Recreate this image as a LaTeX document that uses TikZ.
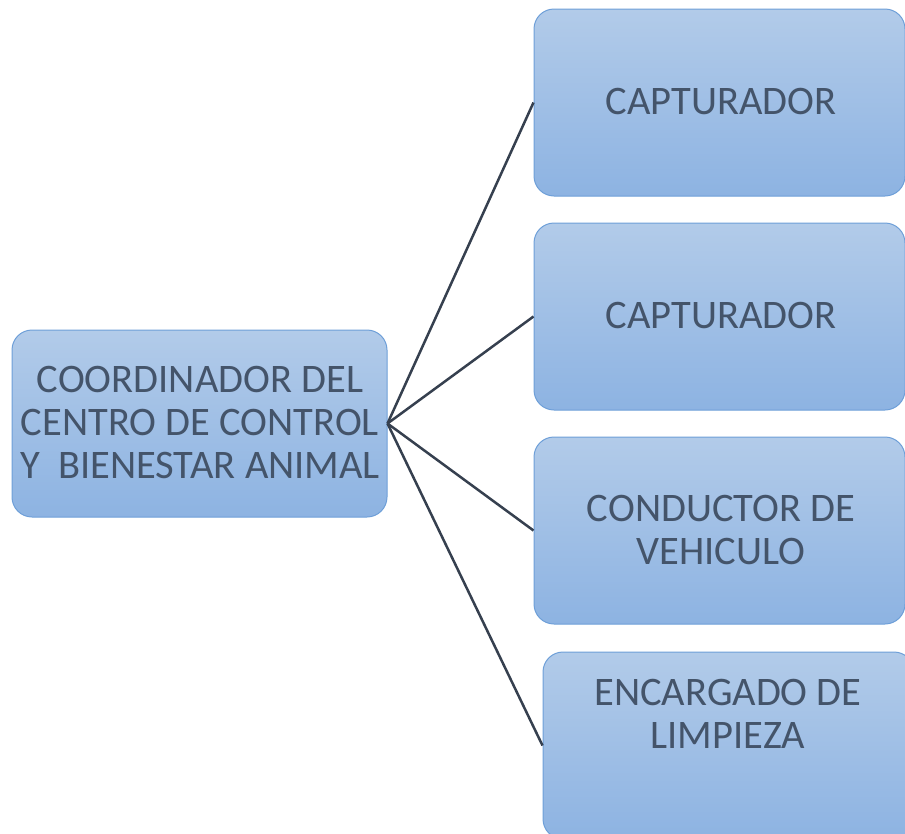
\documentclass[tikz,border=0pt]{standalone}
\usepackage{fontspec}
\setmainfont{Carlito}
\definecolor{txt}{HTML}{44546A}
\definecolor{topc}{HTML}{B2CBE9}
\definecolor{botc}{HTML}{8DB3E2}
\definecolor{edge}{HTML}{6E9FD8}
\definecolor{linec}{HTML}{36404F}
\tikzset{
  box/.style={draw=edge, line width=1pt, rounded corners=20pt, top color=topc, bottom color=botc, inner sep=0pt},
  lbl/.style={text=txt, font=\fontsize{40.5}{43}\selectfont, align=center},
  conn/.style={draw=linec, line width=2.5pt}
}
\begin{document}
\begin{tikzpicture}[x=1pt,y=-1pt]
\useasboundingbox (0,0) rectangle (905,833);
\clip (0,0) rectangle (905,833);
\node[box, minimum width=375pt, minimum height=187pt] (c) at (199.5,423.5) {};
\node[box, minimum width=371pt, minimum height=187pt] (b1) at (719.5,102.5) {};
\node[box, minimum width=371pt, minimum height=187pt] (b2) at (719.5,316.5) {};
\node[box, minimum width=371pt, minimum height=187pt] (b3) at (719.5,530.5) {};
\node[box, minimum width=371pt, minimum height=187pt] (b4) at (728.5,745.5) {};
\node[lbl] (tc) at (200,422) {COORDINADOR DEL\\CENTRO DE CONTROL\\Y\ \ BIENESTAR ANIMAL};
\node[lbl] (t1) at (721,102) {CAPTURADOR};
\node[lbl] (t2) at (721,316) {CAPTURADOR};
\node[lbl] (t3) at (721,530) {CONDUCTOR DE\\VEHICULO};
\node[lbl] (t4) at (728,714) {ENCARGADO DE\\LIMPIEZA};
\draw[conn] (c.east) -- (b1.west);
\draw[conn] (c.east) -- (b2.west);
\draw[conn] (c.east) -- (b3.west);
\draw[conn] (c.east) -- (b4.west);
\end{tikzpicture}
\end{document}
